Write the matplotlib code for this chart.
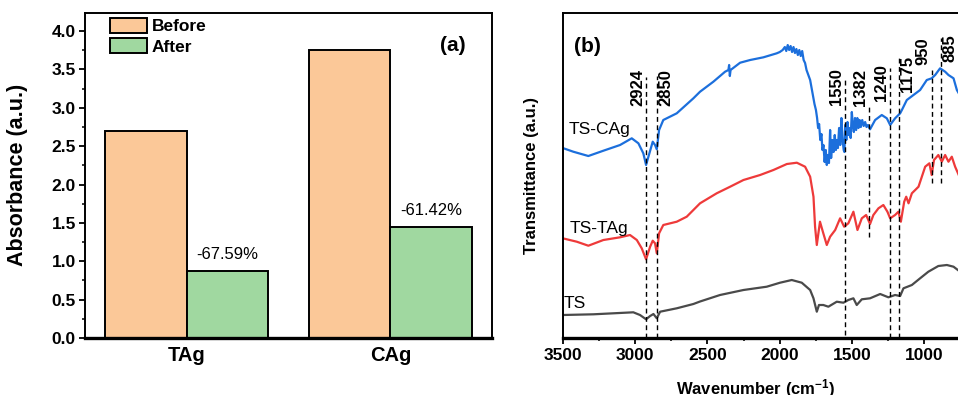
import matplotlib

matplotlib.use("Agg")

import matplotlib.pyplot as plt
from matplotlib.ticker import MultipleLocator

plt.rcParams["font.family"] = ["Liberation Sans", "DejaVu Sans"]
plt.rcParams["font.weight"] = "bold"
plt.rcParams["axes.labelweight"] = "bold"
plt.rcParams["mathtext.fontset"] = "custom"
plt.rcParams["mathtext.rm"] = "Liberation Sans:bold"
plt.rcParams["mathtext.bf"] = "Liberation Sans:bold"
plt.rcParams["mathtext.default"] = "bf"

# ---- panel (a): absorbance before / after
samples = ["TAg", "CAg"]
before = [2.70, 3.75]
after = [0.875, 1.447]
reduction_labels = ["-67.59%", "-61.42%"]

# ---- panel (b): FTIR spectra (transmittance, arbitrary units)
ts_cag_wn = [3500, 3427, 3323, 3219, 3104, 3023, 2977, 2943, 2924, 2901, 2878, 2862,
             2850, 2834, 2805, 2712, 2597, 2551, 2459, 2378, 2355, 2350, 2345, 2340,
             2274, 2205, 2113, 2021, 2000, 1980, 1965, 1955, 1945, 1935, 1925, 1915,
             1905, 1895, 1885, 1875, 1865, 1855, 1845, 1835, 1825, 1815, 1800, 1790,
             1780, 1770, 1760, 1750, 1742, 1735, 1728, 1720, 1712, 1705, 1698, 1690,
             1682, 1675, 1668, 1660, 1652, 1645, 1636, 1628, 1620, 1612, 1605, 1598,
             1590, 1582, 1574, 1566, 1558, 1553, 1548, 1540, 1532, 1525, 1517, 1510,
             1502, 1495, 1488, 1480, 1472, 1464, 1456, 1448, 1440, 1430, 1420, 1410,
             1400, 1390, 1376, 1341, 1295, 1260, 1237, 1203, 1168, 1156, 1122, 1076,
             1030, 984, 950, 926, 892, 857, 834, 799, 776, 760]
ts_cag_t = [190, 186.3, 182, 187.3, 193, 199.7, 194.7, 184.7, 173, 184.7, 196.3, 193,
            188.7, 208, 218, 224.7, 239.7, 246.3, 256.3, 266.3, 268, 273, 262, 268,
            275.3, 278, 280.7, 284.7, 286, 288, 291, 287, 293, 288, 292, 286,
            291, 285, 289, 283, 288, 282, 287, 278, 275, 268, 262, 258,
            250, 242, 234, 228, 220, 210, 214, 198, 204, 188, 193, 176,
            188, 173, 183, 175, 208, 180, 198, 186, 203, 188, 198, 190,
            210, 193, 220, 198, 188, 186, 213, 198, 216, 203, 210, 200,
            226, 213, 206, 220, 208, 220, 210, 218, 211, 218, 212, 216,
            211, 213, 208.7, 218, 223, 219.7, 213, 219.7, 224.7, 228, 238, 243,
            248, 258, 259.7, 263, 269.7, 266.3, 263, 259.7, 248, 244]

ts_tag_wn = [3500, 3403, 3323, 3219, 3104, 3035, 2988, 2954, 2924, 2896, 2878, 2862,
             2850, 2834, 2805, 2712, 2643, 2551, 2436, 2343, 2251, 2136, 2044, 1951,
             1882, 1825, 1790, 1767, 1756, 1744, 1733, 1722, 1699, 1675, 1652, 1617,
             1583, 1555, 1526, 1491, 1463, 1433, 1403, 1376, 1353, 1318, 1284, 1256,
             1237, 1203, 1180, 1163, 1140, 1126, 1110, 1087, 1041, 995, 966, 950,
             934, 904, 880, 857, 834, 811, 788, 760]
ts_tag_t = [99.7, 96.3, 92.3, 98, 100.7, 103, 98, 89.7, 78.7, 91.3, 97.3, 94.7,
            84.7, 104.7, 113, 116.3, 121.3, 134.7, 144.7, 151.3, 158, 163, 168, 174,
            175.3, 171.3, 161.3, 141.3, 111.3, 93, 104.7, 116.3, 104.7, 93, 101.3, 108,
            119.7, 111.3, 114.7, 126.3, 108, 119.7, 123, 114, 123, 129.7, 133, 126.3,
            119.7, 123, 126.3, 116.3, 136.3, 141.3, 134.7, 144.7, 151.3, 171.3, 174.7, 163,
            178, 183, 176.3, 183, 176.3, 181.3, 171.3, 162]

ts_wn = [3500, 3288, 3150, 3012, 2966, 2924, 2896, 2873, 2850, 2827, 2712, 2597,
         2551, 2413, 2251, 2090, 1998, 1917, 1848, 1790, 1767, 1744, 1729, 1699,
         1664, 1606, 1560, 1526, 1491, 1468, 1433, 1376, 1306, 1249, 1203, 1168,
         1145, 1087, 1030, 973, 904, 845, 799, 760]
ts_t = [23, 23.7, 24.7, 25.7, 23, 18.7, 22, 24, 19.7, 26.3, 29.7, 34,
        36.5, 43, 48, 51.3, 55.3, 58, 55.3, 48, 39.7, 26.3, 33, 33,
        31.3, 36.3, 35.3, 38, 39.7, 33, 38.7, 39.7, 44, 40.7, 43, 42,
        49.7, 53, 59.7, 66.3, 72, 73, 71.3, 67]

spectra = [
    ("TS-CAg", ts_cag_wn, ts_cag_t, "#1c6fdc", 3461, 204),
    ("TS-TAg", ts_tag_wn, ts_tag_t, "#ee3a3a", 3449, 104.7),
    ("TS", ts_wn, ts_t, "#4a4a4a", 3491, 29.7),
]

# peak marker: wavenumber, line bottom, line top, label side, label bottom
peaks = [2924, 2850, 1550, 1382, 1240, 1175, 950, 885]
peak_low = [0, 0, 3, 101, 0, 0, 155, 155]
peak_high = [261, 262, 261, 231, 270, 280, 268, 300]
peak_side = ["left", "right", "left", "left", "left", "right", "left", "right"]
label_bottom = [232, 232, 233, 232, 237, 246, 273, 276]

fig = plt.figure(figsize=(9.58, 3.95), dpi=100)
fig.patch.set_facecolor("white")

# ---------------- (a)
ax1 = fig.add_axes([0.0887, 0.1443, 0.4252, 0.8235])
pos = list(range(len(samples)))
width = 0.4
ax1.bar([p - width / 2 for p in pos], before, width, color="#fbc898",
        edgecolor="black", linewidth=1.4, label="Before")
ax1.bar([p + width / 2 for p in pos], after, width, color="#a0d8a0",
        edgecolor="black", linewidth=1.4, label="After")
for p, val, text in zip(pos, after, reduction_labels):
    ax1.text(p + width / 2, val + 0.15, text, ha="center", va="baseline",
             fontsize=12, fontweight="normal")
ax1.set_xlim(-0.5, 1.5)
ax1.set_ylim(0, 4.24)
ax1.set_xticks(pos)
ax1.set_xticklabels(samples, fontsize=14.5)
ax1.yaxis.set_major_locator(MultipleLocator(0.5))
ax1.yaxis.set_minor_locator(MultipleLocator(0.25))
ax1.tick_params(axis="x", length=0, pad=6)
ax1.tick_params(axis="y", which="major", direction="out", length=4.5, width=1.3,
                labelsize=12.5, pad=2)
ax1.tick_params(axis="y", which="minor", direction="out", length=2.5, width=1.1)
ax1.set_ylabel("Absorbance (a.u.)", fontsize=15.5, fontweight="bold")
ax1.yaxis.set_label_coords(-0.14, 0.5)
for side in ["top", "right", "left"]:
    ax1.spines[side].set_linewidth(1.4)
ax1.spines["bottom"].set_linewidth(2.4)
ax1.text(0.902, 0.898, "(a)", transform=ax1.transAxes, ha="center", va="center",
         fontsize=15)
ax1.legend(loc="upper left", bbox_to_anchor=(0.062, 0.985), frameon=False,
           fontsize=12.5, handlelength=2.1, handleheight=1.0, labelspacing=0.2,
           handletextpad=0.3, borderpad=0, borderaxespad=0)

# ---------------- (b)
ax2 = fig.add_axes([0.5874, 0.1443, 0.4682, 0.8235])
for name, wn, t, color, tx, ty in spectra:
    ax2.plot(wn, t, color=color, linewidth=1.6)
    ax2.text(tx, ty, name, ha="left", va="baseline", fontsize=12.5,
             fontweight="normal")
for wn, lo, hi, side, lb in zip(peaks, peak_low, peak_high, peak_side, label_bottom):
    ax2.plot([wn, wn], [lo, hi], color="black", linewidth=1.0,
             linestyle=(0, (3.5, 2.5)))
    offset = 8 if side == "left" else -8
    ax2.text(wn + offset, lb, str(wn), rotation=90, ha="right" if side == "left" else "left",
             va="bottom", fontsize=12)
ax2.set_xlim(3500, 400)
ax2.set_ylim(0, 325.3)
ax2.set_xticks([3500, 3000, 2500, 2000, 1500, 1000])
ax2.xaxis.set_minor_locator(MultipleLocator(250))
ax2.tick_params(axis="x", which="major", direction="out", length=4, width=1.3,
                labelsize=12.5, pad=3)
ax2.tick_params(axis="x", which="minor", direction="out", length=2.5, width=1.1)
ax2.set_yticks([])
ax2.set_ylabel("Transmittance (a.u.)", fontsize=12, fontweight="bold")
ax2.yaxis.set_label_coords(-0.052, 0.5)
ax2.set_xlabel(r"Wavenumber (cm$^{-1}$)", fontsize=12, fontweight="bold")
ax2.xaxis.set_label_coords(0.429, -0.12)
for side in ["top", "right", "left"]:
    ax2.spines[side].set_linewidth(1.4)
ax2.spines["bottom"].set_linewidth(2.4)
ax2.text(0.054, 0.895, "(b)", transform=ax2.transAxes, ha="center", va="center",
         fontsize=15)

fig.savefig("out.png", dpi=100)
